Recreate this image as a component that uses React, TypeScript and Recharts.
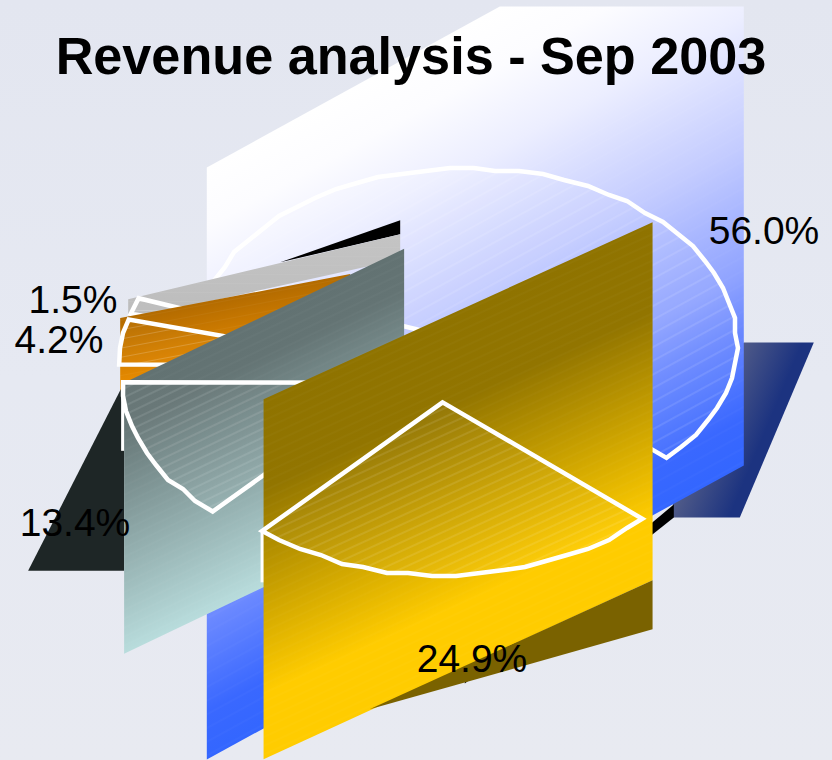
import React from 'react';
import { PieChart, Pie } from 'recharts';

const categories = ['A', 'E', 'D', 'C', 'B'];
const shares = [56.0, 1.5, 4.2, 13.4, 24.9];
const chartTitle = 'Revenue analysis - Sep 2003';

type Pt = [number, number];
type Poly = { pts: Pt[]; fill: string };
type Panel = {
  back: Poly[];
  tail?: [Pt, Pt];
  panel: Pt[];
  grad: [number, number, number, number];
  stops: [number, string][];
  sheen: number;
  spacing: number;
  under?: { pts: Pt[]; grad: [number, number, number, number]; stops: [number, string][] };
  front?: Poly[];
};

// All panel geometry is relative to the exploded centre of the slice.
const PANELS: Panel[] = [
  {
    under: {
      pts: [[277, 1], [347, 1], [273, 176], [206, 176], [206, 60]],
      grad: [277, 1, 327, 22],
      stops: [[0, '#4f5a88'], [1, '#1c3380']],
    },
    back: [{ pts: [[207, 163], [207, 176], [-2, 342], [-2, 338]], fill: '#000000' }],
    panel: [[-260, -174], [33, -335], [277, -335], [277, 124], [-260, 418]],
    grad: [-260, -174, -11, 281],
    stops: [
      [0, '#ffffff'], [0.1, '#fcfcff'], [0.24, '#eceeff'], [0.457, '#c4ccff'],
      [0.68, '#8ea2ff'], [0.77, '#6a88ff'], [0.92, '#3a68ff'], [1, '#3366ff'],
    ],
    sheen: 0.05,
    spacing: 12,
  },
  {
    back: [{ pts: [[9, -139], [9, -125], [-111, -97]], fill: '#000000' }],
    panel: [[-263, -60], [9, -125], [9, -100], [-263, -40]],
    grad: [0, -125, 0, -40],
    stops: [[0, '#c4c4c4'], [1, '#bcbcbc']],
    sheen: 0.02,
    spacing: 9,
  },
  {
    back: [],
    panel: [[-269, -47], [-39, -91], [-39, -25], [-269, 27]],
    grad: [-269, -47, -255, 27],
    stops: [[0, '#b36b00'], [1, '#f09000']],
    sheen: 0.02,
    spacing: 9,
  },
  {
    back: [{ pts: [[-365, 188], [-269, 188], [-269, 0]], fill: '#1e2626' }],
    tail: [[-270, 0], [-270, 68]],
    panel: [[-269, 0], [11, -134], [11, 137], [-269, 271]],
    grad: [-269, 0, -164, 220],
    stops: [[0, '#627272'], [0.15, '#647474'], [1, '#b8dcdc']],
    sheen: 0.03,
    spacing: 8,
  },
  {
    back: [],
    tail: [[-180, 130], [-180, 180]],
    panel: [[-179, -3], [210, -180], [210, 178], [-179, 357]],
    grad: [-179, -3, -43, 295],
    stops: [[0, '#8f7300'], [0.25, '#927500'], [0.82, '#ffcc00'], [1, '#ffcc00']],
    sheen: 0.03,
    spacing: 8,
    front: [{ pts: [[210, 178], [210, 227], [-73, 307]], fill: '#7a6200' }],
  },
];

const LABEL_ANCHORS: Pt[] = [
  [764, 244],
  [73, 313],
  [59, 353],
  [75, 536],
  [472, 672],
];

const SQUASH = 173 / 270;
const EXPLODE = 0.19;
const GRID = 3;

const pts = (p: Pt[], cx: number, cy: number) =>
  p.map(([x, y]) => `${x + cx},${y + cy}`).join(' ');

function Slice(props: any) {
  const { cx, cy, outerRadius: r, startAngle, endAngle, index } = props;
  const layout = PANELS[index];
  const mid = ((startAngle + endAngle) / 2) * (Math.PI / 180);
  const ox = cx + EXPLODE * r * Math.cos(mid);
  const oy = cy - EXPLODE * SQUASH * r * Math.sin(mid);
  const on = (deg: number): Pt => {
    const a = (deg * Math.PI) / 180;
    return [ox + r * Math.cos(a), oy - SQUASH * r * Math.sin(a)];
  };
  const wedge: Pt[] = [[ox, oy], on(startAngle)];
  const sweep = endAngle - startAngle;
  const n = Math.max(1, Math.round(sweep / 5));
  for (let i = 1; i < n; i += 1) {
    const [x, y] = on(startAngle + (sweep * i) / n);
    wedge.push([Math.round(x / GRID) * GRID, Math.round(y / GRID) * GRID]);
  }
  wedge.push(on(endAngle));
  const gid = `panel-${index}`;
  const hid = `hatch-${index}`;
  const sid = `sheen-${index}`;
  const g = layout.grad;
  const s = layout.spacing;
  const angle = (Math.atan2(g[3] - g[1], g[2] - g[0]) * 180) / Math.PI - 90;
  return (
    <g>
      <defs>
        <linearGradient id={gid} gradientUnits="userSpaceOnUse" x1={ox + g[0]} y1={oy + g[1]} x2={ox + g[2]} y2={oy + g[3]}>
          {layout.stops.map(([o, c]) => <stop key={o} offset={o} stopColor={c} />)}
        </linearGradient>
        {layout.under && (
          <linearGradient id={`${gid}-u`} gradientUnits="userSpaceOnUse" x1={ox + layout.under.grad[0]} y1={oy + layout.under.grad[1]} x2={ox + layout.under.grad[2]} y2={oy + layout.under.grad[3]}>
            {layout.under.stops.map(([o, c]) => <stop key={o} offset={o} stopColor={c} />)}
          </linearGradient>
        )}
        <pattern id={hid} patternUnits="userSpaceOnUse" width={60} height={s} patternTransform={`rotate(${angle})`}>
          <rect width={60} height={s} fill="#ffffff" fillOpacity={layout.sheen} />
          <line x1={0} y1={s / 2} x2={60} y2={s / 2} stroke="#ffffff" strokeOpacity={0.22} strokeWidth={0.7} />
        </pattern>
        <pattern id={sid} patternUnits="userSpaceOnUse" width={60} height={s} patternTransform={`rotate(${angle})`}>
          <line x1={0} y1={s / 2} x2={60} y2={s / 2} stroke="#ffffff" strokeOpacity={0.06} strokeWidth={0.7} />
        </pattern>
      </defs>
      {layout.under && <polygon points={pts(layout.under.pts, ox, oy)} fill={`url(#${gid}-u)`} />}
      {layout.back.map((b, i) => <polygon key={i} points={pts(b.pts, ox, oy)} fill={b.fill} />)}
      {layout.tail && (
        <line x1={ox + layout.tail[0][0]} y1={oy + layout.tail[0][1]} x2={ox + layout.tail[1][0]} y2={oy + layout.tail[1][1]} stroke="#ffffff" strokeWidth={4} />
      )}
      <polygon points={pts(layout.panel, ox, oy)} fill={`url(#${gid})`} />
      <polygon points={pts(layout.panel, ox, oy)} fill={`url(#${sid})`} />
      {layout.front?.map((b, i) => <polygon key={i} points={pts(b.pts, ox, oy)} fill={b.fill} />)}
      <polygon
        points={wedge.map(([x, y]) => `${x},${y}`).join(' ')}
        fill={`url(#${hid})`}
        stroke="#ffffff"
        strokeWidth={4.5}
        strokeLinejoin="miter"
      />
    </g>
  );
}

function SliceLabel(props: any) {
  const { index, value } = props;
  const [x, y] = LABEL_ANCHORS[index];
  return (
    <text x={x} y={y} textAnchor="middle" fontFamily="Liberation Sans" fontSize={39} fill="#000000">
      {`${value.toFixed(1)}%`}
    </text>
  );
}

const rows = categories.map((name, i) => ({ name, value: shares[i] }));

export default function App() {
  return (
    <div
      style={{
        position: 'absolute',
        left: 0,
        top: 0,
        width: 832,
        height: 760,
        overflow: 'hidden',
        background: 'linear-gradient(180deg, #e3e6f0 0%, #e6e9f2 50%, #e8eaf1 100%)',
      }}
    >
      <PieChart width={832} height={760} margin={{ top: 0, right: 0, bottom: 0, left: 0 }}>
        <Pie
          data={rows}
          dataKey="value"
          nameKey="name"
          cx={440}
          cy={369.5}
          innerRadius={0}
          outerRadius={270}
          startAngle={-42.3}
          endAngle={317.7}
          stroke="none"
          isAnimationActive={false}
          shape={Slice}
          label={SliceLabel}
          labelLine={false}
        />
      </PieChart>
      <svg width={832} height={760} style={{ position: 'absolute', left: 0, top: 0, pointerEvents: 'none' }}>
        <text x={411} y={74} textAnchor="middle" fontFamily="Liberation Sans" fontWeight="bold" fontSize={52.2} fill="#000000">
          {chartTitle}
        </text>
      </svg>
    </div>
  );
}
